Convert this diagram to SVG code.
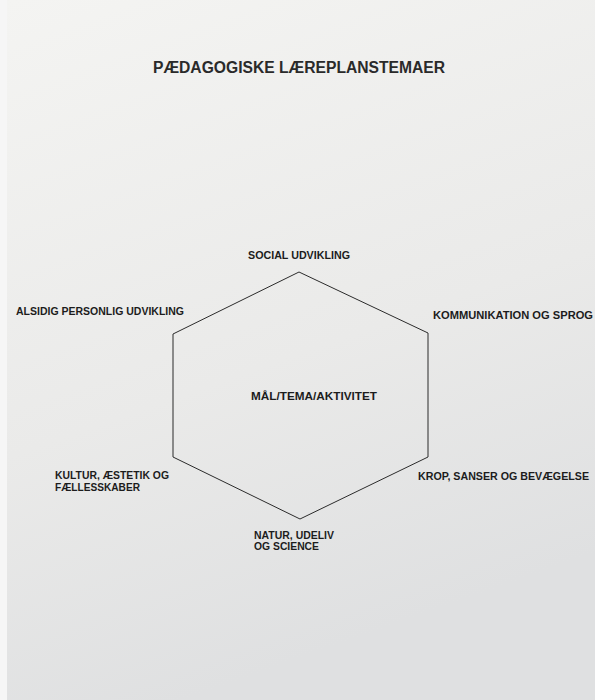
<svg xmlns="http://www.w3.org/2000/svg" width="595" height="700" viewBox="0 0 595 700">
<defs>
<linearGradient id="paper" x1="0" y1="0" x2="0.3" y2="1">
<stop offset="0" stop-color="#f4f4f2"/>
<stop offset="0.6" stop-color="#eaeae9"/>
<stop offset="1" stop-color="#dfe0e1"/>
</linearGradient>
<style>
.t{font-family:"Liberation Sans",Arial,sans-serif;font-weight:bold;fill:#1c1c1c;font-size:10px}
.title{font-family:"Liberation Sans",Arial,sans-serif;font-weight:bold;fill:#2a2a2a;font-size:16px}
.hex{fill:none;stroke:#2b2b2b;stroke-width:1}
</style>
</defs>
<rect x="0" y="0" width="595" height="700" fill="#f6f6f6"/>
<rect x="7" y="0" width="588" height="700" fill="url(#paper)"/>
<text class="title" x="153" y="73" textLength="292" lengthAdjust="spacingAndGlyphs">PÆDAGOGISKE LÆREPLANSTEMAER</text>
<g id="connectors">
<polygon id="hexagon" class="hex" points="299,272 428,333 428,457 300,519 173,457 173,334"/>
</g>
<g id="center"><text class="t" x="251" y="400" textLength="126" lengthAdjust="spacingAndGlyphs">MÅL/TEMA/AKTIVITET</text></g>
<g id="social"><text class="t" x="248" y="259" textLength="102" lengthAdjust="spacingAndGlyphs">SOCIAL UDVIKLING</text></g>
<g id="alsidig"><text class="t" x="16" y="315" textLength="168" lengthAdjust="spacingAndGlyphs">ALSIDIG PERSONLIG UDVIKLING</text></g>
<g id="kommunikation"><text class="t" x="433" y="319" textLength="160" lengthAdjust="spacingAndGlyphs">KOMMUNIKATION OG SPROG</text></g>
<g id="kultur"><text class="t" x="55" y="479" textLength="114" lengthAdjust="spacingAndGlyphs">KULTUR, ÆSTETIK OG</text><text class="t" x="55" y="491" textLength="85" lengthAdjust="spacingAndGlyphs">FÆLLESSKABER</text></g>
<g id="krop"><text class="t" x="418" y="480" textLength="171" lengthAdjust="spacingAndGlyphs">KROP, SANSER OG BEVÆGELSE</text></g>
<g id="natur"><text class="t" x="254" y="539" textLength="80" lengthAdjust="spacingAndGlyphs">NATUR, UDELIV</text><text class="t" x="254" y="550" textLength="65" lengthAdjust="spacingAndGlyphs">OG SCIENCE</text></g>
</svg>
